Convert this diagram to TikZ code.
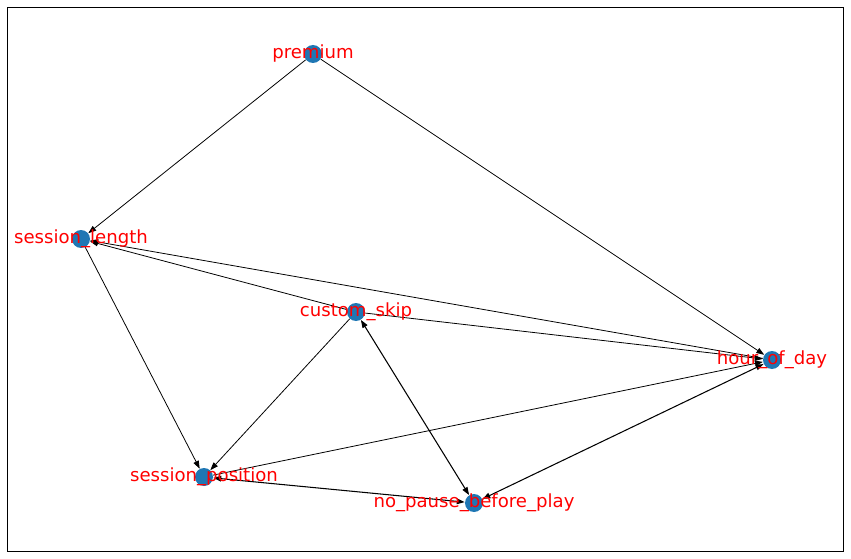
\documentclass[tikz,border=0pt]{standalone}
\usepackage{fontspec}
\setmainfont{DejaVu Sans}
\usetikzlibrary{arrows.meta}
\definecolor{nodeblue}{HTML}{1F77B4}
\begin{document}
\begin{tikzpicture}[
  vertex/.style={circle,fill=nodeblue,inner sep=0pt,minimum size=0.36cm},
  lbl/.style={red,font=\fontsize{10.3}{11}\selectfont,inner sep=0pt},
  edge/.style={-{Triangle[length=4.5pt,width=3.2pt]},line width=0.45pt},
  both/.style={{Triangle[length=4.5pt,width=3.2pt]}-{Triangle[length=4.5pt,width=3.2pt]},line width=0.6pt}]
\useasboundingbox (0,0) rectangle (17.02,11.16);
% Frame
\draw[line width=0.5pt] (0.14,0.14) rectangle (16.86,11.02);

% Nodes
\node[vertex] (premium) at (6.26,10.08) {};
\node[vertex] (sesslen) at (1.62,6.38) {};
\node[vertex] (skip) at (7.12,4.92) {};
\node[vertex] (hour) at (15.44,3.96) {};
\node[vertex] (sesspos) at (4.08,1.62) {};
\node[vertex] (nopause) at (9.48,1.10) {};

% Edges
\draw[edge] (premium) -- (sesslen);
\draw[edge] (premium) -- (hour);
\draw[edge] (sesslen) -- (sesspos);
\draw[edge] (skip) -- (sesslen);
\draw[edge] (hour) -- (sesslen);
\draw[edge] (skip) -- (hour);
\draw[edge] (skip) -- (sesspos);
\draw[both] (skip) -- (nopause);
\draw[edge] (sesspos) -- (hour);
\draw[both] (sesspos) -- (nopause);
\draw[both] (nopause) -- (hour);

% Labels
\node[lbl] (premiumtxt) at (premium) {premium};
\node[lbl] (sesslentxt) at (sesslen) {session\_length};
\node[lbl] (skiptxt) at (skip) {custom\_skip};
\node[lbl] (hourtxt) at (hour) {hour\_of\_day};
\node[lbl] (sesspostxt) at (sesspos) {session\_position};
\node[lbl] (nopausetxt) at (nopause) {no\_pause\_before\_play};
\end{tikzpicture}
\end{document}
